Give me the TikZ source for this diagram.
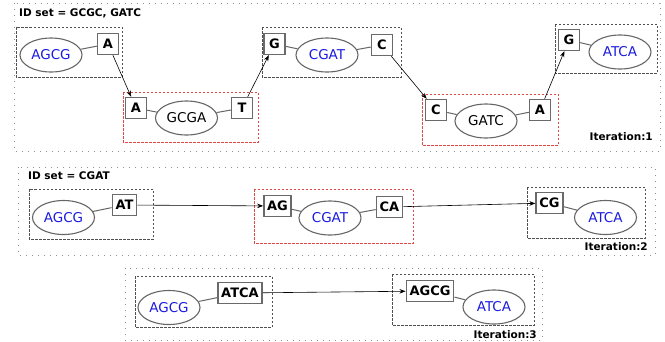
\documentclass[tikz,border=0pt]{standalone}
\usepackage{fontspec}
\setmainfont{DejaVu Sans}
\usetikzlibrary{shapes.geometric,arrows.meta}
\definecolor{boxgray}{HTML}{6A6A6A}
\definecolor{ellgray}{HTML}{666666}
\definecolor{grpgray}{HTML}{505050}
\definecolor{grpred}{HTML}{E04848}
\definecolor{outgray}{HTML}{909090}
\definecolor{idblue}{HTML}{1A1AE0}
\tikzset{
  lbl/.style={rectangle, draw=boxgray, line width=1.4pt, fill=white,
    font=\fontsize{13}{15}\selectfont\bfseries, minimum width=21pt,
    minimum height=21pt, inner xsep=3.3pt, inner ysep=0pt},
  ell/.style={ellipse, draw=ellgray, line width=1.1pt, fill=white,
    minimum width=62pt, minimum height=34pt, inner sep=0pt,
    font=\fontsize{13.5}{16}\selectfont},
  bl/.style={text=idblue},
  link/.style={draw=ellgray, line width=1pt},
  arr/.style={-{Stealth[length=6pt,width=4.5pt]}, line width=0.6pt, black},
  grp/.style={draw=grpgray, line width=1pt, dash pattern=on 2.5pt off 1.5pt},
  rgrp/.style={draw=grpred, line width=1pt, dash pattern=on 2.5pt off 1.5pt},
  outer/.style={draw=outgray, line width=1pt, dash pattern=on 1pt off 5pt},
  head/.style={font=\fontsize{10.5}{12}\selectfont\bfseries, inner sep=0pt},
}
\begin{document}
\begin{tikzpicture}[x=1pt,y=-1pt]
\useasboundingbox (0,0) rectangle (665,341);
% ---------- Iteration 1 ----------
\draw[outer] (14,3) rectangle (660,151);
\node[head, anchor=west] (h1) at (19,13) {ID set = GCGC, GATC};
\node[head, anchor=east] (it1) at (653,137) {Iteration:1};
\draw[grp] (16,27) rectangle (122,77);
\draw[rgrp] (123,92) rectangle (258,142);
\draw[grp] (262,27) rectangle (401,77);
\draw[rgrp] (422,94) rectangle (558,145);
\draw[grp] (555,24) rectangle (657,73);
\node[ell, bl] (e1) at (51,55) {AGCG};
\node[lbl] (b1) at (108,44) {A};
\node[lbl] (b2) at (136,108) {A};
\node[ell] (e2) at (186.5,118) {GCGA};
\node[lbl] (b3) at (242,108) {T};
\node[lbl] (b4) at (274.5,44) {G};
\node[ell, bl] (e3) at (327,55) {CGAT};
\node[lbl] (b5) at (382,45) {C};
\node[lbl] (b6) at (436,110) {C};
\node[ell] (e4) at (486,121) {GATC};
\node[lbl] (b7) at (540,110) {A};
\node[lbl] (b8) at (569,40) {G};
\node[ell, bl] (e5) at (620,52) {ATCA};
\draw[link] (e1) -- (b1);
\draw[link] (b2) -- (e2);
\draw[link] (e2) -- (b3);
\draw[link] (b4) -- (e3);
\draw[link] (e3) -- (b5);
\draw[link] (b6) -- (e4);
\draw[link] (e4) -- (b7);
\draw[link] (b8) -- (e5);
\draw[arr] (b1) -- (b2);
\draw[arr] (b3) -- (b4);
\draw[arr] (b5) -- (b6);
\draw[arr] (b7) -- (b8);
% ---------- Iteration 2 ----------
\draw[outer] (18,167) rectangle (655,255);
\node[head, anchor=west] (h2) at (28,176) {ID set = CGAT};
\node[head, anchor=east] (it2) at (648,247) {Iteration:2};
\draw[grp] (29,189) rectangle (153,239);
\draw[rgrp] (254,189) rectangle (413,243);
\draw[grp] (527,187) rectangle (645,238);
\node[ell, bl] (e6) at (63.5,217.5) {AGCG};
\node[lbl] (b9) at (124.5,205) {AT};
\node[lbl] (b10) at (277.5,206) {AG};
\node[ell, bl] (e7) at (330,218) {CGAT};
\node[lbl] (b11) at (389.5,207) {CA};
\node[lbl] (b12) at (549.5,203) {CG};
\node[ell, bl] (e8) at (605.5,217.5) {ATCA};
\draw[link] (e6) -- (b9);
\draw[link] (b10) -- (e7);
\draw[link] (e7) -- (b11);
\draw[link] (b12) -- (e8);
\draw[arr] (b9) -- (b10);
\draw[arr] (b11) -- (b12);
% ---------- Iteration 3 ----------
\draw[outer] (125,268) rectangle (542,340);
\node[head, anchor=east] (it3) at (537,335) {Iteration:3};
\draw[grp] (135,276) rectangle (272,327);
\draw[grp] (392,274) rectangle (534,325);
\node[ell, bl] (e9) at (169,307.5) {AGCG};
\node[lbl] (b13) at (240,293) {ATCA};
\node[lbl] (b14) at (430,291) {AGCG};
\node[ell, bl] (e10) at (494,307) {ATCA};
\draw[link] (e9) -- (b13);
\draw[link] (b14) -- (e10);
\draw[arr] (b13) -- (b14);
\end{tikzpicture}
\end{document}
